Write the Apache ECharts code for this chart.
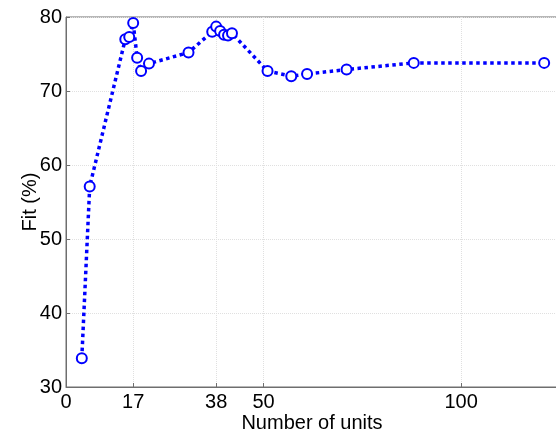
<!DOCTYPE html>
<html>
<head>
<meta charset="utf-8">
<script src="https://cdn.jsdelivr.net/npm/echarts@6/dist/echarts.min.js"></script>
<style>
  html, body { margin: 0; padding: 0; background: #fff; }
  #main { width: 556px; height: 433px; }
</style>
</head>
<body>
<div id="main"></div>
<script>
// number of units vs fit
const units = [4, 6, 15, 16, 17, 18, 19, 21, 31, 37, 38, 39, 40, 41, 42, 51, 57, 61, 71, 88, 121];
const fit = [33.9, 57.1, 77.0, 77.3, 79.2, 74.5, 72.7, 73.7, 75.2, 78.0, 78.7, 78.1, 77.6, 77.5, 77.8, 72.7, 72.0, 72.3, 72.9, 73.8, 73.8];
const xTicks = [0, 17, 38, 50, 100];

const chart = echarts.init(document.getElementById("main"));
const font = "Liberation Sans, Arial, sans-serif";

const option = {
  animation: false,
  grid: {
    left: 66, top: 17, right: -2, bottom: 46,
    outerBoundsMode: "none",
    show: true, borderColor: "#6e6e6e", borderWidth: 1
  },
  xAxis: {
    type: "value",
    min: 0,
    max: 124.5,
    name: "Number of units",
    nameLocation: "middle",
    nameGap: 26,
    nameMoveOverlap: false,
    nameTextStyle: { fontFamily: font, fontSize: 20, color: "#000" },
    axisLine: { lineStyle: { color: "#6e6e6e" } },
    axisTick: { inside: true, length: 4, customValues: xTicks, lineStyle: { color: "#6e6e6e" } },
    axisLabel: { customValues: xTicks, fontFamily: font, fontSize: 20, color: "#000", margin: 5 },
    splitLine: { show: true, lineStyle: { color: "#e0e0e0", type: "dotted" } }
  },
  yAxis: {
    type: "value",
    min: 30,
    max: 80,
    interval: 10,
    name: "Fit (%)",
    nameLocation: "middle",
    nameGap: 26,
    nameMoveOverlap: false,
    nameTextStyle: { fontFamily: font, fontSize: 20, color: "#000" },
    axisLine: { show: true, lineStyle: { color: "#6e6e6e" } },
    axisTick: { show: true, inside: true, length: 4, lineStyle: { color: "#6e6e6e" } },
    axisLabel: { fontFamily: font, fontSize: 20, color: "#000", margin: 4 },
    splitLine: { show: true, lineStyle: { color: "#e0e0e0", type: "dotted" } }
  },
  series: [{
    type: "line",
    data: units.map((u, i) => [u, fit[i]]),
    symbol: "emptyCircle",
    symbolSize: 10,
    lineStyle: { color: "#0000ff", width: 3.5, type: "dotted" },
    itemStyle: { color: "#0000ff", borderColor: "#0000ff", borderWidth: 3 }
  }]
};

chart.setOption(option);
</script>
</body>
</html>
